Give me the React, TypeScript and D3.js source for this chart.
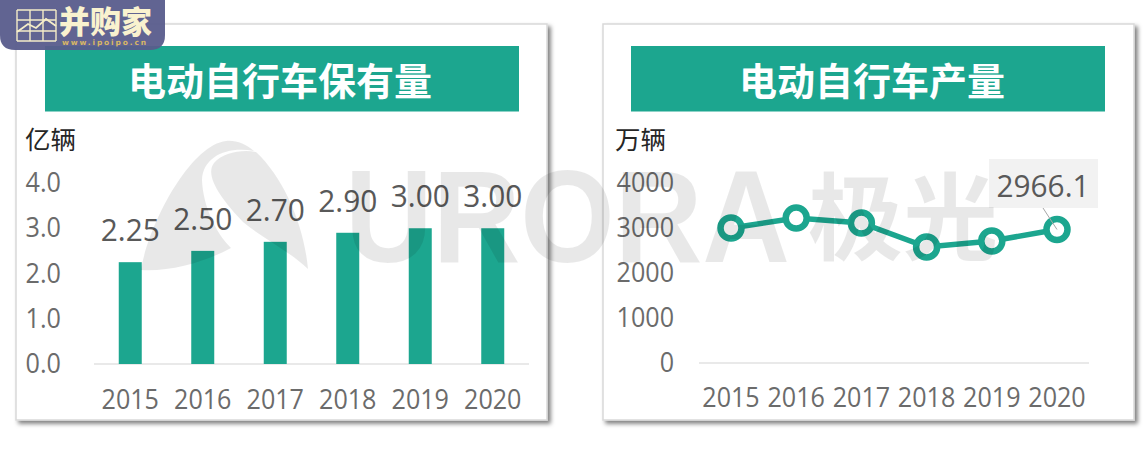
import React from 'react';
import * as d3 from 'd3';

const years = ['2015', '2016', '2017', '2018', '2019', '2020'];
const stockValues = [2.25, 2.5, 2.7, 2.9, 3.0, 3.0];
const stockTicks = [0, 1, 2, 3, 4];
const outputValues = [3000, 3222, 3111, 2578, 2711, 2966.1];
const outputTicks = [0, 1000, 2000, 3000, 4000];

const GREEN = '#1ca68f';
const LABEL = '#6b6b6b';
const DARK = '#595959';
const CJK = '"Noto Sans CJK SC", sans-serif';
const NUM = '"Open Sans", sans-serif';

// numbers in the reference are a bit narrower than Open Sans, so squeeze them
const Num = ({ x, y, size, fill, anchor = 'middle', squeeze = 0.93, children }) => {
  const s = String(children);
  const dots = s.split('.').length - 1;
  const natural = size * (0.572 * (s.length - dots) + 0.266 * dots);
  return (
    <text x={x} y={y} textAnchor={anchor} fontFamily={NUM} fontSize={size} fill={fill}
      textLength={natural * squeeze} lengthAdjust="spacingAndGlyphs">{s}</text>
  );
};

const Panel = ({ x, width, bandX, titleX, title }) => (
  <g>
    <rect x={x} y={24} width={width} height={396} fill="#fff" stroke="#d9d9d9" strokeWidth={1.5} filter="url(#panelShadow)" />
    <rect x={bandX} y={46} width={474} height={65.5} fill={GREEN} />
    <text x={titleX} y={94.5} textAnchor="middle" fill="#fff" fontFamily={CJK} fontWeight={700} fontSize={38}>{title}</text>
  </g>
);

const StockChart = () => {
  const x = d3.scaleBand().domain(years).range([94, 529]);
  const y = d3.scaleLinear().domain([0, 4]).range([364, 183]);
  const barW = 23;
  return (
    <g>
      <text x={25} y={149} fontFamily={CJK} fontSize={25.5} fill="#262626">亿辆</text>
      <line x1={94} x2={529} y1={y(0)} y2={y(0)} stroke="#e2e2e2" strokeWidth={1.5} />
      {stockTicks.map(t => (
        <Num key={t} x={61} y={y(t) + 9} size={27} fill={LABEL} anchor="end">{d3.format('.1f')(t)}</Num>
      ))}
      {stockValues.map((v, i) => {
        const cx = x(years[i]) + x.bandwidth() / 2;
        return (
          <g key={years[i]}>
            <rect x={cx - barW / 2} y={y(v)} width={barW} height={y(0) - y(v)} fill={GREEN} />
            <Num x={cx} y={y(v) - 21} size={31} fill={DARK} squeeze={0.96}>{d3.format('.2f')(v)}</Num>
            <Num x={cx} y={409} size={27} fill={LABEL}>{years[i]}</Num>
          </g>
        );
      })}
    </g>
  );
};

const OutputChart = () => {
  const x = d3.scalePoint().domain(years).range([731, 1057]);
  const y = d3.scaleLinear().domain([0, 4000]).range([363, 183]);
  const line = d3.line<number>().x((d, i) => x(years[i])).y(d => y(d));
  const lastX = x(years[5]);
  const lastY = y(outputValues[5]);
  return (
    <g>
      <text x={615} y={149} fontFamily={CJK} fontSize={25.5} fill="#262626">万辆</text>
      <line x1={699} x2={1089} y1={y(0)} y2={y(0)} stroke="#e2e2e2" strokeWidth={1.5} />
      {outputTicks.map(t => (
        <Num key={t} x={674} y={y(t) + 9} size={27} fill={LABEL} anchor="end">{t}</Num>
      ))}
      <rect x={989} y={159} width={109} height={49} fill="#f2f2f2" />
      <path d={line(outputValues)} fill="none" stroke={GREEN} strokeWidth={5.5} />
      {outputValues.map((v, i) => (
        <circle key={years[i]} cx={x(years[i])} cy={y(v)} r={10.5} fill="#fff" stroke={GREEN} strokeWidth={6.5} />
      ))}
      <line x1={1043} x2={lastX} y1={208} y2={lastY} stroke="#a6a6a6" strokeWidth={1} />
      <Num x={1043} y={197} size={31} fill={DARK} squeeze={0.96}>{d3.format('.1f')(outputValues[5])}</Num>
      {years.map(yr => (
        <Num key={yr} x={x(yr)} y={407} size={27} fill={LABEL}>{yr}</Num>
      ))}
    </g>
  );
};

// grey brand mark laid over both panels
const Watermark = () => (
  <g fill="#000" fillOpacity={0.09}>
    <path d="M141,270 C148,225 190,145 226,141 C236,140 246,144 254,151 C228,146 203,156 202,180 C203,205 215,232 231,248 C205,262 170,272 141,270 Z" />
    <path d="M256,152 C284,178 304,225 308,269 C288,250 262,238 243,222 C222,200 204,176 214,163 C222,153 242,149 256,152 Z" />
    <text x={345} y={262} fontFamily={'"Liberation Sans", sans-serif'} fontWeight={700} fontSize={132} textLength={445} lengthAdjust="spacingAndGlyphs">URORA</text>
    <text x={808} y={253} fontFamily={CJK} fontWeight={700} fontSize={95}>极光</text>
  </g>
);

const Badge = () => {
  const cols = [17, 30, 43, 56];
  const rows = [10, 20, 31, 41];
  return (
    <g>
      <path d="M0,0 H165 V35 Q165,50 150,50 H15 Q0,50 0,35 Z" fill="#585c8c" fillOpacity={0.95} />
      <g stroke="#f5edc8" strokeWidth={1.4} fill="none">
        {cols.map(c => <line key={c} x1={c} x2={c} y1={10} y2={41} />)}
        {rows.map(r => <line key={r} x1={17} x2={56} y1={r} y2={r} />)}
        <path d="M17,32 L28,24 L36,28 L46,19 L56,26" strokeWidth={1.8} />
      </g>
      <text x={59} y={33} fontFamily={CJK} fontWeight={900} fontSize={31} fill="#f9f2cf" textLength={93}>并购家</text>
      <text x={62} y={45} fontFamily={'"DejaVu Sans", sans-serif'} fontSize={7.5} fontWeight={700} fill="#d8b765" textLength={84}>www.ipoipo.cn</text>
    </g>
  );
};

export default function App() {
  return (
    <svg width={1146} height={457} style={{ position: 'absolute', left: 0, top: 0 }}>
      <defs>
        <filter id="panelShadow" x="-5%" y="-5%" width="110%" height="110%">
          <feDropShadow dx={3} dy={3} stdDeviation={2} floodColor="#000" floodOpacity={0.5} />
        </filter>
      </defs>
      <rect width={1146} height={457} fill="#fff" />
      <Panel x={16} width={531} bandX={45} titleX={280} title="电动自行车保有量" />
      <Panel x={603} width={531} bandX={631} titleX={872} title="电动自行车产量" />
      <StockChart />
      <OutputChart />
      <Watermark />
      <Badge />
    </svg>
  );
}
